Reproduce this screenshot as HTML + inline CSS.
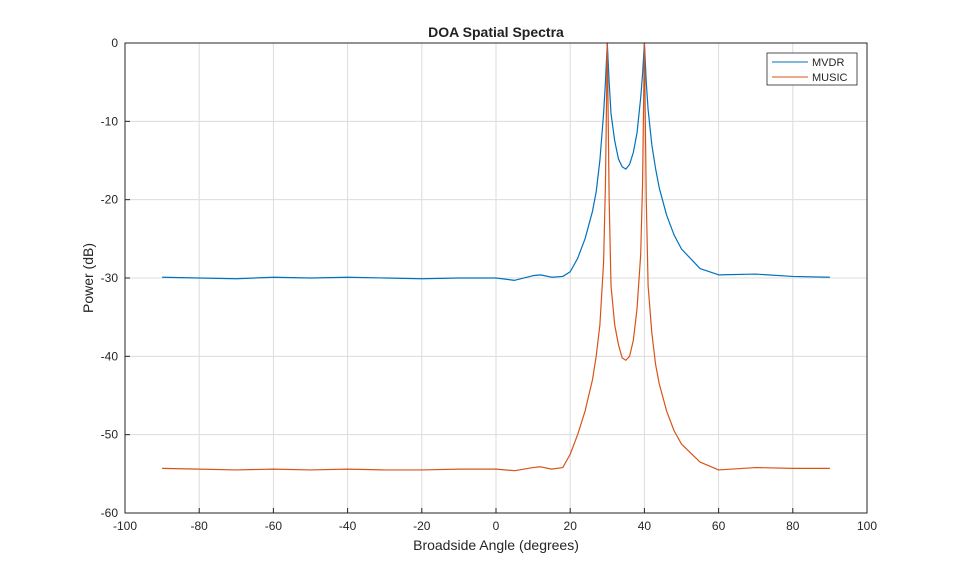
<!DOCTYPE html>
<html><head><meta charset="utf-8"><style>
html,body{margin:0;padding:0;background:#fff;}
svg{display:block;font-family:"Liberation Sans",Arial,sans-serif;}
</style></head><body>
<svg id="chart" width="959" height="577" viewBox="0 0 959 577">
<rect x="0" y="0" width="959" height="577" fill="#fff"/>
<g id="grid"></g>
<g id="series"></g>
<rect x="125" y="43" width="742" height="470" fill="none" stroke="#262626" stroke-width="1"/>
<g id="ticks"></g>
<text x="496" y="37" text-anchor="middle" font-size="14" font-weight="bold" fill="#212121">DOA Spatial Spectra</text>
<text x="496" y="550" text-anchor="middle" font-size="14" fill="#262626">Broadside Angle (degrees)</text>
<text transform="translate(93,278) rotate(-90)" text-anchor="middle" font-size="14" fill="#262626">Power (dB)</text>
<g>
<rect x="767" y="53" width="90" height="32" fill="#fff" stroke="#262626" stroke-width="0.8"/>
<line x1="772" y1="62" x2="808" y2="62" stroke="#0072BD" stroke-width="1"/>
<text x="812" y="66" font-size="11" fill="#262626">MVDR</text>
<line x1="772" y1="77" x2="808" y2="77" stroke="#D95319" stroke-width="1"/>
<text x="812" y="81" font-size="11" fill="#262626">MUSIC</text>
</g>
</svg>
<script>
const xTicks=[-100,-80,-60,-40,-20,0,20,40,60,80,100];
const yTicks=[0,-10,-20,-30,-40,-50,-60];
const angles=[-90,-80,-70,-60,-50,-40,-30,-20,-10,0,5,10,12,15,18,20,22,24,26,27,28,29,29.5,30,30.5,31,32,33,34,35,36,37,38,39,39.5,40,40.5,41,42,43,44,46,48,50,55,60,70,80,90];
const mvdr=[-29.9,-30.0,-30.1,-29.9,-30.0,-29.9,-30.0,-30.1,-30.0,-30.0,-30.3,-29.7,-29.6,-29.9,-29.8,-29.2,-27.5,-25,-21.5,-19,-15,-9,-5,0,-5,-9,-12.5,-14.8,-15.8,-16.1,-15.5,-14,-11.5,-7,-4,0,-5,-8.5,-13,-16,-18.5,-22,-24.5,-26.3,-28.8,-29.6,-29.5,-29.8,-29.9];
const music=[-54.3,-54.4,-54.5,-54.4,-54.5,-54.4,-54.5,-54.5,-54.4,-54.4,-54.6,-54.2,-54.1,-54.4,-54.2,-52.5,-50,-47,-43,-40,-36,-28,-18,0,-20,-31,-36,-38.5,-40.2,-40.5,-40,-38,-34,-27,-18,0,-20,-31,-37,-41,-43.5,-47,-49.5,-51.2,-53.5,-54.5,-54.2,-54.3,-54.3];
const X0=125,X1=867,Y0=43,Y1=513;
const xs=v=>X0+(v+100)/200*(X1-X0);
const ys=v=>Y0+(0-v)/60*(Y1-Y0);
const NS="http://www.w3.org/2000/svg";
const grid=document.getElementById('grid'),ticks=document.getElementById('ticks'),series=document.getElementById('series');
function mk(t,a){const e=document.createElementNS(NS,t);for(const k in a)e.setAttribute(k,a[k]);return e;}
xTicks.forEach(v=>{
 const x=xs(v);
 const g=mk('line',{x1:x,x2:x,y1:Y0,y2:Y1,stroke:'#dcdcdc','stroke-width':1});
 
 
 grid.appendChild(g);
 const t=mk('line',{x1:x,x2:x,y1:Y1,y2:Y1-5,stroke:'#262626'});
 
 
 ticks.appendChild(t);
 const l=mk('text',{x:x,y:Y1+17,'text-anchor':'middle','font-size':12,fill:'#262626'});
 l.textContent=v;
 
 
 ticks.appendChild(l);
});
yTicks.forEach(v=>{
 const y=ys(v);
 const g=mk('line',{x1:X0,x2:X1,y1:y,y2:y,stroke:'#dcdcdc','stroke-width':1});
 
 
 grid.appendChild(g);
 const t=mk('line',{x1:X0,x2:X0+5,y1:y,y2:y,stroke:'#262626'});
 
 
 ticks.appendChild(t);
 const l=mk('text',{x:X0-7,y:y+4,'text-anchor':'end','font-size':12,fill:'#262626'});
 l.textContent=v;
 
 
 ticks.appendChild(l);
});
function line(vals,color,name){
 const p=mk('polyline',{points:angles.map((a,i)=>xs(a)+','+ys(vals[i])).join(' '),fill:'none',stroke:color,'stroke-width':1.2,'stroke-linejoin':'round'});
 
 
 series.appendChild(p);
}
line(mvdr,'#0072BD','mvdr-line');
line(music,'#D95319','music-line');
</script>
</body></html>
